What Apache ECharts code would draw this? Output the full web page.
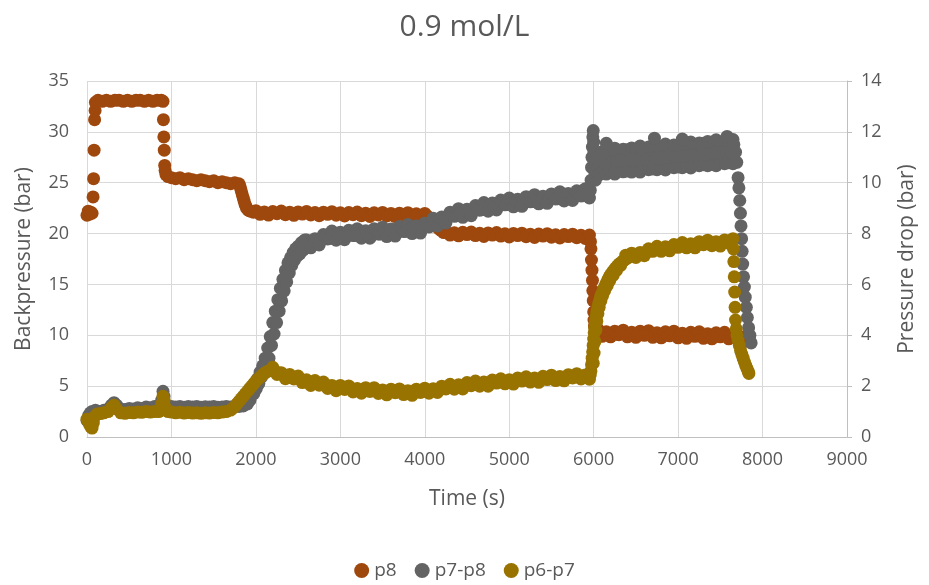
<!DOCTYPE html>
<html>
<head>
<meta charset="utf-8">
<script src="https://cdn.jsdelivr.net/npm/echarts@6/dist/echarts.min.js"></script>
<style>html,body{margin:0;padding:0;background:#fff}#c{width:929px;height:585px}</style>
</head>
<body>
<div id="c"></div>
<script>
const titleText = '0.9 mol/L';
const seriesNames = ['p8', 'p7-p8', 'p6-p7'];
const xTitle = 'Time (s)';
const yLeftTitle = 'Backpressure (bar)';
const yRightTitle = 'Pressure drop (bar)';

// p8 (left axis, bar) : [time s, value]
const p8Data = [
[0,21.8],[15,22.2],[30,21.9],[45,22.1],[60,22.0],[72,23.6],[78,25.4],[84,28.2],[90,31.2],[96,32.1],[100,32.9],
[130,33.1],[180,33.0],[230,33.1],[280,33.0],[330,33.1],[380,33.1],[430,33.0],[480,33.1],[530,33.0],[580,33.1],[630,33.1],[680,33.0],[730,33.1],[780,33.0],[830,33.1],[880,33.1],[900,33.0],
[905,31.2],[910,29.5],[915,28.2],[920,26.7],[925,26.2],[935,25.8],[960,25.6],
[1000,25.5],[1050,25.4],[1100,25.5],[1150,25.3],[1200,25.4],[1250,25.3],[1300,25.2],[1350,25.3],[1400,25.2],[1450,25.1],[1500,25.2],[1550,25.0],[1600,25.1],[1650,25.0],[1700,24.9],[1750,25.0],[1800,24.9],
[1810,24.7],[1820,24.4],[1830,24.1],[1840,23.8],[1850,23.5],[1860,23.2],[1870,22.9],[1880,22.7],[1890,22.5],[1905,22.35],[1920,22.25],[1940,22.2],[1970,22.1],
[2000,22.25],[2050,21.89],[2100,22.13],[2150,21.82],[2200,22.16],[2250,21.95],[2300,22.22],[2350,21.86],[2400,22.1],[2450,21.79],[2500,22.13],[2550,21.92],[2600,22.18],[2650,21.83],[2700,22.07],[2750,21.76],[2800,22.1],[2850,21.89],[2900,22.15],[2950,21.8],
[3000,22.04],[3050,21.73],[3100,22.07],[3150,21.86],[3200,22.11],[3250,21.76],[3300,22.0],[3350,21.69],[3400,22.04],[3450,21.83],[3500,22.08],[3550,21.73],[3600,21.98],[3650,21.67],[3700,22.01],[3750,21.8],[3800,22.05],[3850,21.7],[3900,21.95],[3950,21.64],
[4000,21.98],[4025,21.75],[4050,21.55],[4075,21.35],[4100,21.1],[4125,20.85],[4150,20.6],[4175,20.4],[4200,20.25],[4225,20.1],
[4250,20.2],[4300,19.85],[4350,20.08],[4400,19.78],[4450,20.12],[4500,19.9],[4550,20.15],[4600,19.8],[4650,20.03],[4700,19.72],[4750,20.06],[4800,19.85],[4850,20.1],[4900,19.75],[4950,19.98],
[5000,19.67],[5050,20.01],[5100,19.8],[5150,20.04],[5200,19.69],[5250,19.93],[5300,19.62],[5350,19.96],[5400,19.75],[5450,19.99],[5500,19.64],[5550,19.88],[5600,19.57],[5650,19.91],[5700,19.7],[5750,19.94],[5800,19.59],[5850,19.83],[5900,19.52],[5950,19.86],
[5962,19.2],[5968,18.5],[5974,17.4],[5980,16.4],[5986,15.4],[5990,14.4],[5995,13.4],[6000,12.3],[6004,11.5],[6010,10.9],[6020,10.5],[6035,10.3],
[6050,10.6],[6075,10.2],[6100,9.9],[6125,10.15],[6150,10.35],[6175,10.1],[6200,9.85],[6225,10.2],[6250,10.4],[6275,10.1],[6300,10.05],[6325,10.25],[6350,10.5],[6375,10.15],[6400,9.85],[6425,10.1],[6450,10.3],[6475,10.05],
[6500,9.8],[6525,10.2],[6550,10.4],[6575,10.1],[6600,10.0],[6625,10.25],[6650,10.45],[6675,10.05],[6700,9.8],[6725,10.1],[6750,10.25],[6775,9.95],[6800,9.75],[6825,10.1],[6850,10.35],[6875,10.0],[6900,9.95],[6925,10.2],[6950,10.4],[6975,10.0],
[7000,9.75],[7025,10.05],[7050,10.2],[7075,9.95],[7100,9.7],[7125,10.05],[7150,10.3],[7175,9.95],[7200,9.9],[7225,10.1],[7250,10.35],[7275,9.95],[7300,9.7],[7325,10.0],[7350,10.15],[7375,9.9],[7400,9.65],[7425,10.0],[7450,10.25],[7475,9.9],
[7500,9.85],[7525,10.05],[7550,10.3],[7575,9.9],[7600,9.65],[7625,9.95],[7650,10.1],[7675,9.85],[7700,9.65],[7725,9.9],[7750,9.8],[7775,9.6],[7800,9.5],[7825,9.45],[7850,9.35]
];

// p7-p8 (right axis, bar)
const p7p8Data = [
[0,0.65],[20,0.85],[40,0.95],[60,1.0],[100,1.05],[150,1.0],[200,1.05],[250,1.1],[290,1.25],[320,1.35],[350,1.25],[400,1.1],[450,1.08],[500,1.12],[550,1.1],[600,1.15],[650,1.12],[700,1.18],[750,1.15],[800,1.2],[850,1.18],[885,1.45],[900,1.8],[912,1.6],[930,1.3],[960,1.2],
[1000,1.2],[1050,1.18],[1100,1.2],[1150,1.17],[1200,1.2],[1250,1.18],[1300,1.2],[1350,1.17],[1400,1.19],[1450,1.18],[1500,1.2],[1550,1.17],[1600,1.18],[1650,1.2],[1700,1.18],[1750,1.2],[1800,1.2],[1850,1.22],[1900,1.3],[1930,1.45],
[1960,1.75],[1975,1.7],[1990,2.0],[2005,1.9],[2020,2.3],[2035,2.1],[2050,2.55],[2065,2.35],[2080,2.8],[2095,2.5],[2110,3.1],[2125,2.8],[2140,3.5],[2155,3.1],[2170,3.95],[2185,3.6],[2200,4.5],[2215,4.05],[2230,4.95],[2245,4.5],
[2260,5.4],[2275,4.95],[2290,5.85],[2305,5.35],[2320,6.2],[2335,5.75],[2350,6.55],[2365,6.1],[2380,6.85],[2395,6.45],[2410,7.05],[2425,6.75],[2440,7.25],[2455,6.95],[2470,7.4],[2485,7.1],[2500,7.5],[2520,7.2],[2540,7.65],[2560,7.35],[2580,7.75],
[2600,7.75],[2625,7.58],[2650,7.44],[2675,7.72],[2700,7.8],[2725,7.66],[2750,7.55],[2775,7.78],[2800,7.96],[2825,7.88],[2850,7.79],[2875,7.81],[2900,8.1],[2925,7.91],[2950,7.74],[2975,8.0],
[3000,8.05],[3025,7.89],[3050,7.76],[3075,7.96],[3100,8.13],[3125,8.03],[3150,7.92],[3175,7.92],[3200,8.19],[3225,8.0],[3250,7.82],[3275,8.06],[3300,8.11],[3325,7.95],[3350,7.82],[3375,8.02],[3400,8.19],[3425,8.09],[3450,7.98],[3475,7.98],
[3500,8.25],[3525,8.05],[3550,7.88],[3575,8.13],[3600,8.18],[3625,8.03],[3650,7.9],[3675,8.11],[3700,8.28],[3725,8.19],[3750,8.08],[3775,8.09],[3800,8.36],[3825,8.17],[3850,8.0],[3875,8.25],[3900,8.3],[3925,8.15],[3950,8.02],[3975,8.23],
[4000,8.41],[4025,8.34],[4050,8.26],[4075,8.3],[4100,8.6],[4125,8.44],[4150,8.3],[4175,8.58],[4200,8.65],[4225,8.52],[4250,8.42],[4275,8.65],[4300,8.84],[4325,8.77],[4350,8.68],[4375,8.7],[4400,8.98],[4425,8.8],[4450,8.64],[4475,8.9],
[4500,8.96],[4525,8.82],[4550,8.7],[4575,8.92],[4600,9.1],[4625,9.02],[4650,8.92],[4675,8.94],[4700,9.22],[4725,9.04],[4750,8.88],[4775,9.14],[4800,9.2],[4825,9.05],[4850,8.93],[4875,9.14],[4900,9.32],[4925,9.23],[4950,9.13],[4975,9.14],
[5000,9.4],[5025,9.21],[5050,9.05],[5075,9.3],[5100,9.35],[5125,9.2],[5150,9.07],[5175,9.28],[5200,9.45],[5225,9.36],[5250,9.25],[5275,9.26],[5300,9.53],[5325,9.34],[5350,9.17],[5375,9.42],[5400,9.47],[5425,9.32],[5450,9.19],[5475,9.4],
[5500,9.56],[5525,9.47],[5550,9.36],[5575,9.37],[5600,9.64],[5625,9.45],[5650,9.28],[5675,9.53],[5700,9.58],[5725,9.43],[5750,9.3],[5775,9.51],[5800,9.68],[5825,9.59],[5850,9.48],[5875,9.49],[5900,9.76],[5925,9.57],[5950,9.4],
[5960,9.7],[5970,10.1],[5975,10.6],[5980,11.0],[5985,11.4],[5990,11.8],[5995,12.05],[6000,11.6],[6005,11.2],[6010,10.8],[6015,10.4],[6020,10.1],[6030,10.5],[6045,10.9],[6060,10.3],[6080,11.1],
// plateau, upper edge of the band
[6100,11.22],[6150,11.29],[6200,11.21],[6250,11.36],[6300,11.21],[6350,11.32],[6400,11.3],[6450,11.37],[6500,11.29],[6550,11.44],[6600,11.3],[6650,11.4],[6700,11.38],[6750,11.46],[6800,11.37],[6850,11.52],
[6900,11.38],[6950,11.48],[7000,11.46],[7050,11.54],[7100,11.45],[7150,11.6],[7200,11.46],[7250,11.56],[7300,11.55],[7350,11.62],[7400,11.53],[7450,11.69],[7500,11.54],[7550,11.64],[7600,11.63],[7650,11.7],
// plateau, lower edge of the band
[6100,10.38],[6150,10.34],[6200,10.45],[6250,10.34],[6300,10.48],[6350,10.43],[6400,10.46],[6450,10.42],[6500,10.53],[6550,10.42],[6600,10.57],[6650,10.51],[6700,10.54],[6750,10.51],[6800,10.61],[6850,10.5],
[6900,10.65],[6950,10.59],[7000,10.62],[7050,10.59],[7100,10.69],[7150,10.58],[7200,10.73],[7250,10.67],[7300,10.71],[7350,10.67],[7400,10.77],[7450,10.67],[7500,10.81],[7550,10.75],[7600,10.79],[7650,10.75],
// plateau, middle of the band
[6125,10.81],[6175,10.82],[6225,10.83],[6275,10.85],[6325,10.86],[6375,10.87],[6425,10.89],[6475,10.9],[6525,10.91],[6575,10.93],[6625,10.94],[6675,10.95],[6725,10.97],[6775,10.98],[6825,10.99],[6875,11.01],
[6925,11.02],[6975,11.03],[7025,11.05],[7075,11.06],[7125,11.07],[7175,11.09],[7225,11.1],[7275,11.12],[7325,11.13],[7375,11.14],[7425,11.16],[7475,11.17],[7525,11.18],[7575,11.2],[7625,11.21],
[6150,11.55],[6720,11.75],[7050,11.72],[7580,11.82],
[7660,11.5],[7680,11.2],[7695,10.8],[7710,10.2],[7720,9.8],[7730,9.3],[7738,8.8],[7745,8.3],[7752,7.8],[7758,7.3],[7765,6.8],[7775,6.3],[7785,5.9],[7795,5.5],[7808,5.1],[7820,4.7],[7835,4.3],[7850,4.0],[7865,3.7]
];

// p6-p7 (right axis, bar)
const p6p7Data = [
[0,0.7],[15,0.6],[30,0.5],[45,0.4],[60,0.35],[75,0.55],[90,0.8],[120,0.9],[160,0.92],[200,0.95],[250,1.0],[290,1.15],[320,1.25],[350,1.1],[400,0.95],[450,0.93],[500,0.96],[550,0.95],[600,0.98],[650,0.97],[700,1.0],[750,0.98],[800,1.0],[850,1.0],[885,1.3],[900,1.6],[912,1.45],[930,1.15],[960,1.0],
[1000,0.98],[1050,0.95],[1100,0.97],[1150,0.94],[1200,0.96],[1250,0.94],[1300,0.95],[1350,0.93],[1400,0.95],[1450,0.94],[1500,0.96],[1550,0.95],[1600,0.98],[1650,1.0],[1700,1.06],[1725,1.12],[1750,1.2],[1775,1.3],[1800,1.4],[1825,1.5],[1850,1.6],[1875,1.7],[1900,1.8],[1925,1.9],[1950,2.0],[1975,2.1],
[2000,2.2],[2025,2.28],[2050,2.35],[2075,2.43],[2100,2.5],[2125,2.56],[2150,2.6],[2175,2.62],
[2200,2.74],[2250,2.46],[2300,2.53],[2350,2.29],[2400,2.46],[2450,2.28],[2500,2.4],[2550,2.14],[2600,2.25],[2650,2.03],[2700,2.22],[2750,2.04],[2800,2.16],[2850,1.91],[2900,2.03],[2950,1.82],
[3000,2.03],[3050,1.87],[3100,2.01],[3150,1.77],[3200,1.91],[3250,1.72],[3300,1.94],[3350,1.79],[3400,1.94],[3450,1.71],[3500,1.85],[3550,1.66],[3600,1.88],[3650,1.74],[3700,1.89],[3750,1.67],[3800,1.82],[3850,1.64],[3900,1.88],[3950,1.75],
[4000,1.92],[4050,1.72],[4100,1.9],[4150,1.75],[4200,2.0],[4250,1.89],[4300,2.07],[4350,1.88],[4400,2.05],[4450,1.89],[4500,2.14],[4550,2.02],[4600,2.2],[4650,2.0],[4700,2.16],[4750,2.0],[4800,2.24],[4850,2.12],[4900,2.29],[4950,2.09],
[5000,2.25],[5050,2.08],[5100,2.32],[5150,2.2],[5200,2.37],[5250,2.16],[5300,2.32],[5350,2.15],[5400,2.39],[5450,2.26],[5500,2.43],[5550,2.22],[5600,2.38],[5650,2.21],[5700,2.45],[5750,2.32],[5800,2.49],[5850,2.28],[5900,2.44],[5950,2.27],
[2225,2.59],[2275,2.52],[2325,2.45],[2375,2.39],[2425,2.34],[2475,2.3],[2525,2.26],[2575,2.22],[2625,2.18],[2675,2.14],[2725,2.1],[2775,2.06],[2825,2.02],[2875,2.0],[2925,1.96],[2975,1.94],
[3025,1.92],[3075,1.9],[3125,1.88],[3175,1.86],[3225,1.85],[3275,1.84],[3325,1.83],[3375,1.82],[3425,1.81],[3475,1.8],[3525,1.79],[3575,1.78],[3625,1.78],[3675,1.77],[3725,1.77],[3775,1.77],[3825,1.77],[3875,1.77],[3925,1.78],[3975,1.8],
[4025,1.81],[4075,1.83],[4125,1.86],[4175,1.89],[4225,1.91],[4275,1.94],[4325,1.96],[4375,1.99],[4425,2.01],[4475,2.03],[4525,2.05],[4575,2.07],[4625,2.09],[4675,2.1],[4725,2.12],[4775,2.13],[4825,2.15],[4875,2.16],[4925,2.18],[4975,2.19],
[5025,2.2],[5075,2.21],[5125,2.23],[5175,2.24],[5225,2.25],[5275,2.26],[5325,2.27],[5375,2.28],[5425,2.29],[5475,2.3],[5525,2.31],[5575,2.32],[5625,2.33],[5675,2.34],[5725,2.35],[5775,2.36],[5825,2.37],[5875,2.38],[5925,2.39],
[5960,2.45],[5968,2.6],[5975,2.85],[5982,3.1],[5988,3.35],[5994,3.6],[6000,3.85],[6006,4.1],[6012,4.3],[6018,4.5],[6025,4.65],[6032,4.8],[6040,4.95],[6050,5.1],[6060,5.25],[6070,5.35],[6082,5.5],[6095,5.62],
[6110,5.75],[6125,5.88],[6140,5.98],[6155,6.08],[6170,6.2],[6185,6.3],[6200,6.38],[6220,6.48],[6240,6.56],[6260,6.65],[6280,6.72],[6300,6.8],[6325,6.86],[6350,6.93],[6375,6.98],[6400,7.04],
[5995,2.9],[6005,3.3],[6015,3.75],[6025,4.2],[6037,4.55],[6050,4.85],[6065,5.1],[6085,5.35],[6105,5.55],[6130,5.75],[6160,5.95],[6190,6.15],[6230,6.35],[6270,6.55],[6320,6.75],[6380,7.15],
[6450,7.23],[6500,7.06],[6550,7.26],[6600,7.13],[6650,7.4],[6700,7.3],[6750,7.5],[6800,7.3],[6850,7.48],[6900,7.32],[6950,7.57],
[7000,7.46],[7050,7.65],[7100,7.44],[7150,7.6],[7200,7.44],[7250,7.68],[7300,7.56],[7350,7.74],[7400,7.52],[7450,7.68],[7500,7.51],[7550,7.75],[7600,7.62],[7650,7.8],
[6425,7.08],[6475,7.13],[6525,7.18],[6575,7.23],[6625,7.28],[6675,7.32],[6725,7.35],[6775,7.38],[6825,7.42],[6875,7.44],[6925,7.46],[6975,7.48],
[7025,7.51],[7075,7.53],[7125,7.54],[7175,7.56],[7225,7.57],[7275,7.59],[7325,7.6],[7375,7.61],[7425,7.62],[7475,7.63],[7525,7.64],[7575,7.65],[7625,7.66],
[7655,7.4],[7660,6.9],[7665,6.3],[7670,5.7],[7675,5.1],[7680,4.6],[7688,4.25],[7698,4.0],[7710,3.8],[7725,3.6],[7740,3.4],[7755,3.25],[7770,3.1],[7785,2.95],[7800,2.82],[7815,2.7],[7830,2.58],[7838,2.5]
];

const colors = ['#9E480E', '#636363', '#997300'];
const textColor = '#595959';
const gridColor = '#d9d9d9';
const font = 'Open Sans';

const chart = echarts.init(document.getElementById('c'), null, {renderer: 'canvas'});
chart.setOption({
  animation: false,
  color: colors,
  title: {
    text: titleText, left: 'center', top: 7,
    textStyle: {fontFamily: font, fontSize: 30, fontWeight: 'normal', color: textColor}
  },
  legend: {
    bottom: 0, left: 'center',
    icon: 'circle', itemWidth: 15, itemHeight: 15, itemGap: 18,
    textStyle: {fontFamily: font, fontSize: 19, color: textColor},
    data: seriesNames
  },
  grid: {left: 87, right: 82, top: 81, bottom: 148},
  xAxis: {
    type: 'value', min: 0, max: 9000, interval: 1000,
    name: xTitle, nameLocation: 'middle', nameGap: 52,
    nameTextStyle: {fontFamily: font, fontSize: 21, color: textColor},
    axisLine: {show: true, lineStyle: {color: '#bfbfbf', width: 1}},
    axisTick: {show: false},
    axisLabel: {fontFamily: font, fontSize: 18, color: textColor, margin: 14, formatter: v => String(v)},
    splitLine: {show: true, lineStyle: {color: gridColor, width: 1}}
  },
  yAxis: [
    {
      type: 'value', min: 0, max: 35, interval: 5, position: 'left',
      name: yLeftTitle, nameLocation: 'middle', nameGap: 52, nameRotate: 90,
      nameTextStyle: {fontFamily: font, fontSize: 21, color: textColor},
      axisLine: {show: false}, axisTick: {show: false},
      axisLabel: {fontFamily: font, fontSize: 18, color: textColor, margin: 18},
      splitLine: {show: true, lineStyle: {color: gridColor, width: 1}}
    },
    {
      type: 'value', min: 0, max: 14, interval: 2, position: 'right',
      name: yRightTitle, nameLocation: 'middle', nameGap: 50, nameRotate: 90,
      nameTextStyle: {fontFamily: font, fontSize: 21, color: textColor},
      axisLine: {show: true, lineStyle: {color: '#bfbfbf', width: 1}},
      axisTick: {show: true, length: 5, lineStyle: {color: '#bfbfbf'}},
      axisLabel: {fontFamily: font, fontSize: 18, color: textColor, margin: 14},
      splitLine: {show: false}
    }
  ],
  series: [
    {name: seriesNames[0], type: 'scatter', yAxisIndex: 0, data: p8Data, symbolSize: 13, itemStyle: {color: colors[0], opacity: 1}},
    {name: seriesNames[1], type: 'scatter', yAxisIndex: 1, data: p7p8Data, symbolSize: 13, itemStyle: {color: colors[1], opacity: 1}},
    {name: seriesNames[2], type: 'scatter', yAxisIndex: 1, data: p6p7Data, symbolSize: 13, itemStyle: {color: colors[2], opacity: 1}}
  ]
});
</script>
</body>
</html>
